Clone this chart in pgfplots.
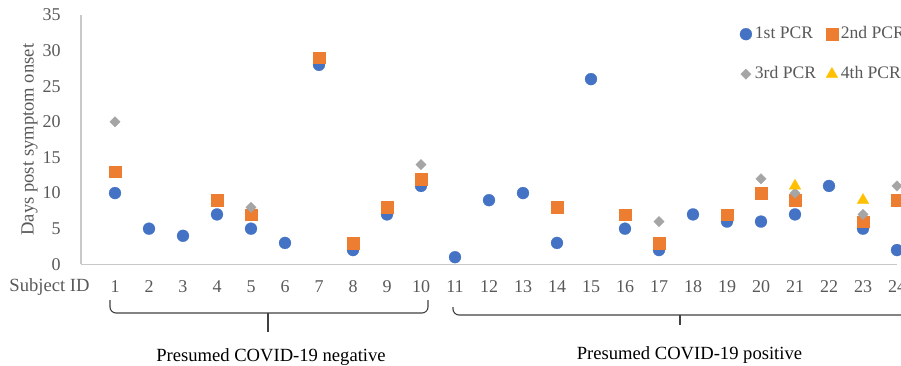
\documentclass[border=0pt]{standalone}
\usepackage{fontspec}
\setmainfont{Liberation Serif}
\usepackage{pgfplots}
\pgfplotsset{compat=1.18}
\definecolor{c1}{HTML}{4472C4}
\definecolor{c2}{HTML}{ED7D31}
\definecolor{c3}{HTML}{A5A5A5}
\definecolor{c4}{HTML}{FFC000}
\definecolor{txt}{HTML}{595959}
\definecolor{axc}{HTML}{C8C8C8}
\definecolor{brc}{HTML}{404040}
\begin{document}
\begin{tikzpicture}
\begin{axis}[
  at={(40.5pt,50.35pt)}, anchor=south west,
  width=408pt, height=124.65pt, scale only axis,
  xmin=0, xmax=24, ymin=0, ymax=35,
  clip=false,
  axis x line*=bottom, axis y line*=left,
  axis line style={draw=axc, line width=0.75pt},
  major tick length=0pt, tick style={draw=none},
  xtick={1,...,24}, ytick={0,5,...,35},
  tick label style={font=\fontsize{9}{10}\selectfont, text=txt},
  /pgf/number format/assume math mode=true,
  yticklabel style={inner sep=0pt, anchor=east, xshift=-10pt},
  xticklabel style={inner sep=0pt, anchor=center, yshift=-11.35pt},
  ylabel={Days post symptom onset},
  ylabel style={font=\fontsize{9.3}{11}\selectfont, text=txt, at={(axis description cs:0,0.5)}, anchor=center, rotate=0, yshift=25.75pt},
  legend columns=2,
  legend cell align=left,
  legend image code/.code={\draw[#1] plot coordinates {(0pt,0pt)};},
  legend style={draw=none, fill=none, inner sep=0pt, outer sep=0pt,
    at={(axis cs:19.38,29.5)}, anchor=west,
    font=\fontsize{8.8}{10}\selectfont, text=txt,
    nodes={inner sep=0pt, text height=6pt, text depth=2pt},
    row sep=12pt,
    /tikz/every odd column/.append style={column sep=1.5pt},
    /tikz/every even column/.append style={column sep=5pt}},
]
\addplot[only marks, color=c1, mark=*, mark size=3pt, mark options={fill=c1, line width=0.1pt}] coordinates {
(1,10)(2,5)(3,4)(4,7)(5,5)(6,3)(7,28)(8,2)(9,7)(10,11)(11,1)(12,9)(13,10)(14,3)(15,26)(16,5)(17,2)(18,7)(19,6)(20,6)(21,7)(22,11)(23,5)(24,2)};
\addlegendentry{1st PCR}
\addplot[only marks, color=c2, mark=square*, mark size=2.9pt, mark options={fill=c2, line width=0.1pt}] coordinates {
(1,13)(4,9)(5,7)(7,29)(8,3)(9,8)(10,12)(14,8)(16,7)(17,3)(19,7)(20,10)(21,9)(23,6)(24,9)};
\addlegendentry{2nd PCR}
\addplot[only marks, color=c3, mark=square*, mark size=1.85pt, mark options={fill=c3, rotate=45, line width=0.1pt}] coordinates {
(1,20)(5,8)(10,14)(17,6)(20,12)(21,10)(23,7)(24,11)};
\addlegendentry{3rd PCR}
\addplot[only marks, color=c4, mark=triangle*, mark size=3.4pt, mark options={fill=c4, line width=0.1pt}] coordinates {
(21,11)(23,9)};
\addlegendentry{4th PCR}
\end{axis}
\begin{scope}[x=0.5pt, y=-0.5pt, shift={(0pt,182.5pt)}]
\node[font=\fontsize{9.3}{11}\selectfont, text=txt] at (49.5,287) {Subject ID};
\node[font=\fontsize{9.3}{11}\selectfont, text=black] at (271,357) {Presumed COVID-19 negative};
\node[font=\fontsize{9.3}{11}\selectfont, text=black] at (689.5,355) {Presumed COVID-19 positive};
\draw[line width=0.55pt, draw=brc, rounded corners=3pt] (110,300) -- (110,313) -- (428,313) -- (428,300);
\draw[line width=0.55pt, draw=brc] (268,313) -- (268,332);
\draw[line width=0.55pt, draw=brc, rounded corners=3pt] (453,307) -- (453,315) -- (930,315);
\draw[line width=0.55pt, draw=brc] (680,315) -- (680,325);
\end{scope}
\pgfresetboundingbox
\path[use as bounding box] (0pt,0pt) rectangle (450.5pt,182.5pt);
\end{tikzpicture}
\end{document}
